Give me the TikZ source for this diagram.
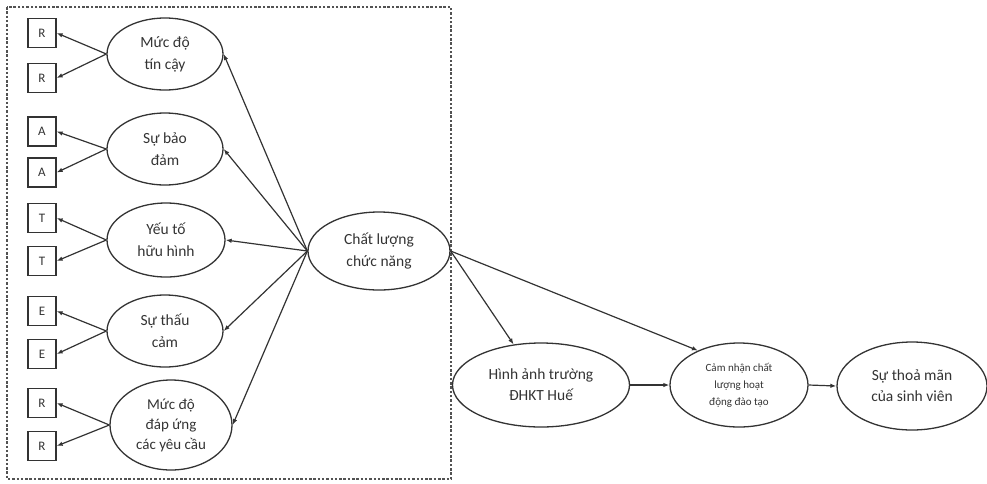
\documentclass[tikz,border=0pt]{standalone}
\usepackage{fontspec}
\setmainfont{Carlito}
\usetikzlibrary{shapes.geometric,arrows.meta}
\definecolor{ink}{HTML}{333333}
\tikzset{
  ell/.style={ellipse,draw=ink,line width=1.3pt,inner sep=0pt,align=center,text=ink,font=\fontsize{15.5}{22}\selectfont},
  box/.style={rectangle,draw=ink,line width=1.3pt,minimum width=28pt,minimum height=29pt,inner sep=0pt,text=ink,font=\fontsize{13}{14}\selectfont},
  conn/.style={draw=ink,line width=1.2pt,-{Latex[length=6pt,width=4.5pt]}},
}
\begin{document}
\begin{tikzpicture}[x=1pt,y=-1pt]
\useasboundingbox (0,0) rectangle (987,483);
\draw[ink!85,line width=1.1pt,dash pattern=on 2.5pt off 1.8pt] (7,7) rectangle (451,479);
% boxes
\node[box] (r1) at (42,33) {R};
\node[box] (r2) at (42,78) {R};
\node[box] (a1) at (42,131.5) {A};
\node[box] (a2) at (42,172.5) {A};
\node[box] (t1) at (42,218) {T};
\node[box] (t2) at (42,261) {T};
\node[box] (e1) at (42,311) {E};
\node[box] (e2) at (42,354) {E};
\node[box] (r3) at (42,403) {R};
\node[box] (r4) at (42,446) {R};
% ellipses
\node[ell,minimum width=116pt,minimum height=72pt] (rel) at (165,54) {Mức độ\\tín cậy};
\node[ell,minimum width=116pt,minimum height=72pt] (ass) at (165,149) {Sự bảo\\đảm};
\node[ell,minimum width=118pt,minimum height=74pt] (tan) at (166,240) {Yếu tố\\hữu hình};
\node[ell,minimum width=116pt,minimum height=72pt] (emp) at (165,331) {Sự thấu\\cảm};
\node[ell,minimum width=122pt,minimum height=90pt,font=\fontsize{15}{20}\selectfont] (res) at (171,425) {Mức độ\\đáp ứng\\các yêu cầu};
\node[ell,minimum width=142pt,minimum height=78pt] (fq) at (379,251) {Chất lượng\\chức năng};
\node[ell,minimum width=177pt,minimum height=84pt,font=\fontsize{15.5}{21}\selectfont] (img) at (541,385) {Hình ảnh trường\\ĐHKT Huế};
\node[ell,minimum width=138pt,minimum height=84pt,font=\fontsize{11}{17}\selectfont] (pq) at (739,385) {Cảm nhận chất\\lượng hoạt\\động đào tạo};
\node[ell,minimum width=150pt,minimum height=88pt,font=\fontsize{15.5}{21}\selectfont] (sat) at (912,386) {Sự thoả mãn\\của sinh viên};
% connectors to boxes
\foreach \e/\a/\b in {rel/r1/r2, ass/a1/a2, tan/t1/t2, emp/e1/e2, res/r3/r4}{
  \draw[conn] (\e.west) -- (\a.east);
  \draw[conn] (\e.west) -- (\b.east);
}
% from functional quality
\foreach \e in {rel,ass,tan,emp,res}{
  \draw[conn] (fq.west) -- (\e.east);
}
\draw[conn] (fq.east) -- (img.124);
\draw[conn] (fq.east) -- (pq.140);
\draw[conn] (img.east) -- (pq.west);
\draw[conn] (pq.east) -- (sat.west);
\end{tikzpicture}
\end{document}
